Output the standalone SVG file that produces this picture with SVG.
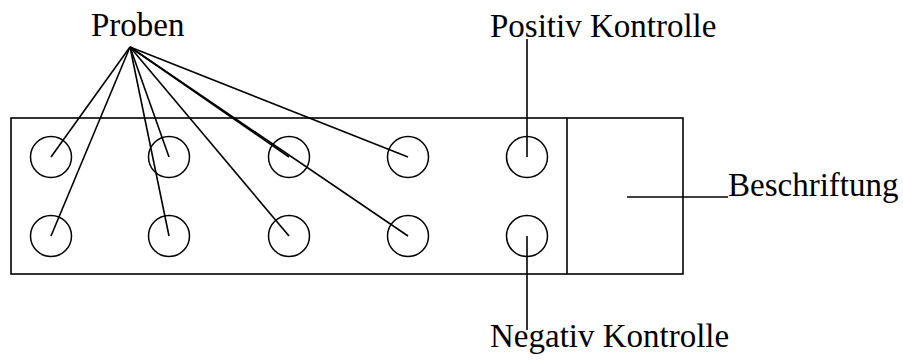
<svg xmlns="http://www.w3.org/2000/svg" width="903" height="361" viewBox="0 0 903 361">
<style>
.s{fill:none;stroke:#000;stroke-width:1.6}
.c{fill:none;stroke:#000;stroke-width:1.5}
.t{font-family:"Liberation Serif","Times New Roman",serif;font-size:33px;fill:#000}
</style>
<rect width="903" height="361" fill="#fff"/>
<g id="plate">
<rect class="s" x="11" y="118" width="672" height="156"/>
<line class="s" x1="567" y1="118" x2="567" y2="274"/>
</g>
<g id="wells">
<circle class="c" cx="51" cy="157" r="20.5"/>
<circle class="c" cx="169" cy="157" r="20.5"/>
<circle class="c" cx="289" cy="157" r="20.5"/>
<circle class="c" cx="408" cy="157" r="20.5"/>
<circle class="c" cx="527" cy="157" r="20.5"/>
<circle class="c" cx="51" cy="236" r="20.5"/>
<circle class="c" cx="169" cy="236" r="20.5"/>
<circle class="c" cx="289" cy="236" r="20.5"/>
<circle class="c" cx="408" cy="236" r="20.5"/>
<circle class="c" cx="527" cy="236" r="20.5"/>
</g>
<g id="connectors" class="s">
<line x1="130" y1="47" x2="51" y2="157"/>
<line x1="130" y1="47" x2="51" y2="236"/>
<line x1="130" y1="47" x2="169" y2="157"/>
<line x1="130" y1="47" x2="169" y2="236"/>
<line x1="130" y1="47" x2="289" y2="157"/>
<line x1="130" y1="47" x2="289" y2="236"/>
<line x1="130" y1="47" x2="408" y2="157"/>
<line x1="130" y1="47" x2="408" y2="236"/>
<line x1="527" y1="39" x2="527" y2="157"/>
<line x1="527" y1="236" x2="527" y2="330"/>
<line x1="627" y1="197" x2="728" y2="197"/>
</g>
<g id="label-proben"><text class="t" x="91" y="36">Proben</text></g>
<g id="label-positiv"><text class="t" x="490" y="37">Positiv Kontrolle</text></g>
<g id="label-beschriftung"><text class="t" x="728" y="196">Beschriftung</text></g>
<g id="label-negativ"><text class="t" x="490" y="347">Negativ Kontrolle</text></g>
</svg>
